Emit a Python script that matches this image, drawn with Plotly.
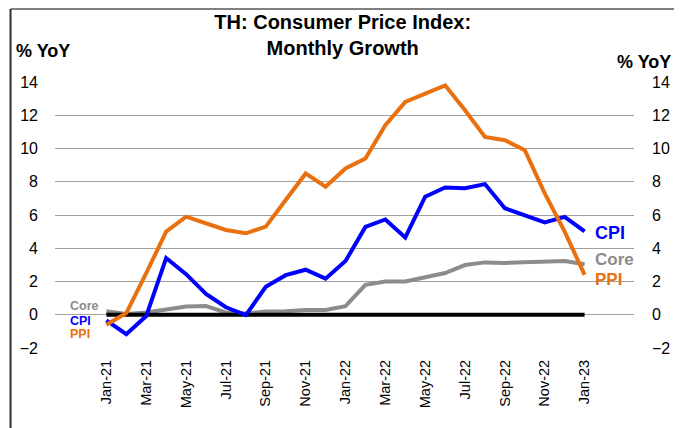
import plotly.graph_objects as go

months = ["Jan-21", "Feb-21", "Mar-21", "Apr-21", "May-21", "Jun-21", "Jul-21", "Aug-21",
          "Sep-21", "Oct-21", "Nov-21", "Dec-21", "Jan-22", "Feb-22", "Mar-22", "Apr-22",
          "May-22", "Jun-22", "Jul-22", "Aug-22", "Sep-22", "Oct-22", "Nov-22", "Dec-22", "Jan-23"]
cpi = [-0.34, -1.17, -0.08, 3.41, 2.44, 1.25, 0.45, -0.02, 1.68, 2.38, 2.71, 2.17,
       3.23, 5.28, 5.73, 4.65, 7.10, 7.66, 7.61, 7.86, 6.41, 5.98, 5.55, 5.89, 5.02]
core = [0.21, 0.04, 0.14, 0.31, 0.49, 0.52, 0.14, 0.07, 0.19, 0.21, 0.29, 0.29,
        0.52, 1.80, 2.00, 2.00, 2.28, 2.51, 2.99, 3.15, 3.12, 3.17, 3.22, 3.23, 3.04]
ppi = [-0.6, 0.1, 2.5, 5.0, 5.9, 5.5, 5.1, 4.9, 5.3, 6.9, 8.5, 7.7,
       8.8, 9.4, 11.4, 12.8, 13.3, 13.8, 12.3, 10.7, 10.5, 9.9, 7.3, 5.0, 2.4]
zero = [0.0] * len(months)
y_ticks = [-2, 0, 2, 4, 6, 8, 10, 12, 14]

BLUE = "#0000FF"
ORANGE = "#E8700F"
GRAY = "#8C8C8C"
FONT = "Liberation Sans"

x = list(range(len(months)))

fig = go.Figure()
fig.add_trace(go.Scatter(x=x, y=core, mode="lines", line=dict(color=GRAY, width=4), name="Core"))
fig.add_trace(go.Scatter(x=x, y=zero, mode="lines", line=dict(color="black", width=4), name="Zero"))
fig.add_trace(go.Scatter(x=x, y=cpi, mode="lines", line=dict(color=BLUE, width=4), name="CPI"))
fig.add_trace(go.Scatter(x=x, y=ppi, mode="lines", line=dict(color=ORANGE, width=4), name="PPI",
                         yaxis="y2"))

# page body has an 8px offset; layout numbers below are in screen pixels
OFF = 8
W, H = 682 - OFF, 428 - OFF
L, R, T, B = 54 - OFF, W - (640 - OFF), 82 - OFF, H - (348 - OFF)
pw, ph = W - L - R, H - T - B

def px_x(p):
    return (p - OFF - L) / pw

def px_y(p):
    return (H - B - (p - OFF)) / ph

annotations = [
    dict(text="<b>% YoY</b>", x=px_x(13), y=px_y(51), xref="paper", yref="paper",
         xanchor="left", yanchor="middle", showarrow=False, font=dict(size=18, color="black", family=FONT)),
    dict(text="<b>% YoY</b>", x=px_x(679), y=px_y(62), xref="paper", yref="paper",
         xanchor="right", yanchor="middle", showarrow=False, font=dict(size=18, color="black", family=FONT)),
    dict(text="<b>Core</b>", x=px_x(67), y=0.5, xref="paper", yref="y",
         xanchor="left", yanchor="middle", showarrow=False, font=dict(size=12.5, color="#8C8C8C", family=FONT)),
    dict(text="<b>CPI</b>", x=px_x(67), y=-0.4, xref="paper", yref="y",
         xanchor="left", yanchor="middle", showarrow=False, font=dict(size=12.5, color=BLUE, family=FONT)),
    dict(text="<b>PPI</b>", x=px_x(67), y=-1.15, xref="paper", yref="y",
         xanchor="left", yanchor="middle", showarrow=False, font=dict(size=12.5, color=ORANGE, family=FONT)),
    dict(text="<b>CPI</b>", x=px_x(598), y=4.9, xref="paper", yref="y",
         xanchor="left", yanchor="middle", showarrow=False, font=dict(size=18, color=BLUE, family=FONT)),
    dict(text="<b>Core</b>", x=px_x(598), y=3.3, xref="paper", yref="y",
         xanchor="left", yanchor="middle", showarrow=False, font=dict(size=17, color="#8C8C8C", family=FONT)),
    dict(text="<b>PPI</b>", x=px_x(598), y=2.12, xref="paper", yref="y",
         xanchor="left", yanchor="middle", showarrow=False, font=dict(size=17, color=ORANGE, family=FONT)),
]

shapes = [
    dict(type="line", xref="paper", yref="paper", x0=px_x(9), x1=px_x(W + 30), y0=px_y(9), y1=px_y(9),
         line=dict(color="#808080", width=2)),
    dict(type="line", xref="paper", yref="paper", x0=px_x(9), x1=px_x(9), y0=px_y(9), y1=px_y(H + 30),
         line=dict(color="#303030", width=2)),
]

step = 20.17
fig.update_layout(
    width=W, height=H,
    margin=dict(l=L, r=R, t=T, b=B),
    paper_bgcolor="white", plot_bgcolor="white",
    showlegend=False,
    font=dict(family=FONT, color="black", size=16),
    title=dict(text="<b>TH: Consumer Price Index:<br>Monthly Growth</b>", x=px_x(345), xanchor="center",
               y=1 - 21 / H, yanchor="middle", font=dict(size=20, color="black", family=FONT)),
    xaxis=dict(range=[-(106 - 54) / step, 24 + (640 - 590) / step], tickmode="array",
               tickvals=x[::2], ticktext=months[::2], tickangle=-90, showgrid=False, zeroline=False,
               showline=False, ticks="", tickfont=dict(size=14.5), ticklabelstandoff=8),
    yaxis=dict(range=[-2, 14], tickmode="array", tickvals=y_ticks, showgrid=True,
               gridcolor="#A0A0A0", gridwidth=1.3, zeroline=False, showline=False, ticks="",
               tickfont=dict(size=16), ticklabelstandoff=16),
    yaxis2=dict(range=[-2, 14], tickmode="array", tickvals=y_ticks, overlaying="y", side="right",
                showgrid=False, zeroline=False, showline=False, ticks="",
                tickfont=dict(size=16), ticklabelstandoff=17),
    annotations=annotations,
    shapes=shapes,
)

fig.write_html("out.html", config={"displayModeBar": False})
